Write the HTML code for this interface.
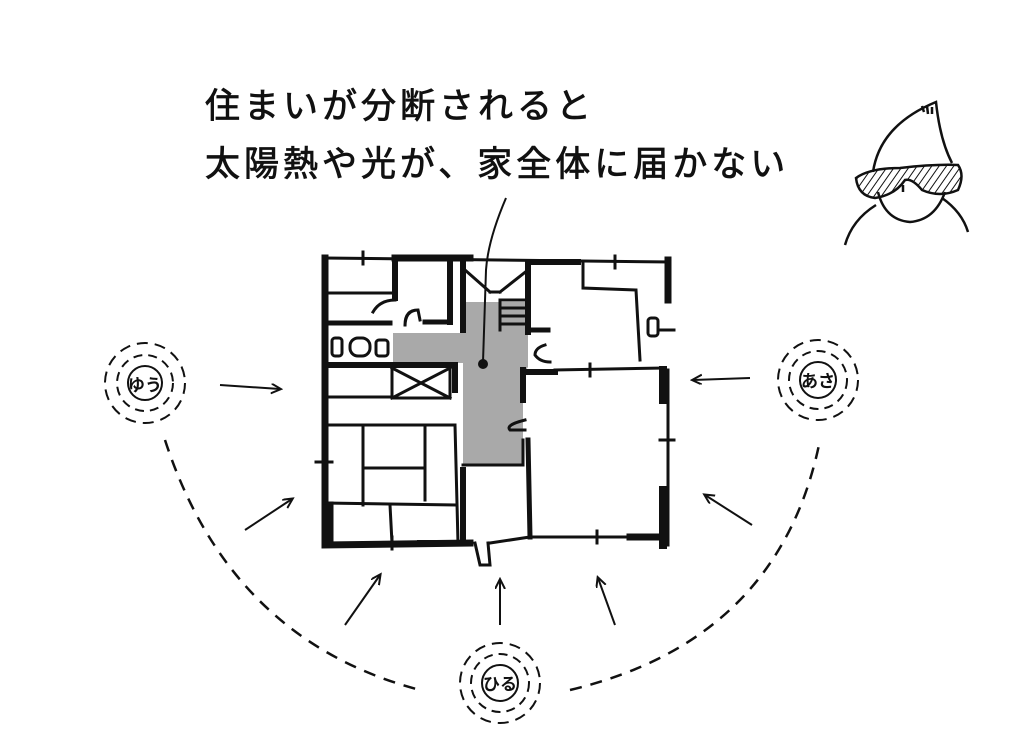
<!DOCTYPE html>
<html><head><meta charset="utf-8"><style>
html,body{margin:0;padding:0;background:#fff;}
svg{display:block;}
text{font-family:"Liberation Sans","Noto Sans CJK JP",sans-serif;fill:#111;}
</style></head><body>
<svg width="1024" height="748" viewBox="0 0 1024 748" xmlns="http://www.w3.org/2000/svg">
<defs>
<marker id="ah" markerWidth="12" markerHeight="12" refX="9" refY="5" orient="auto" markerUnits="userSpaceOnUse">
<path d="M0,0 L10,5 L0,10" fill="none" stroke="#111" stroke-width="2"/></marker>
<pattern id="hatch" width="6" height="6" patternUnits="userSpaceOnUse" patternTransform="rotate(35)">
<line x1="0" y1="0" x2="0" y2="6" stroke="#111" stroke-width="2"/></pattern>
</defs>
<text x="205" y="118" font-size="35" letter-spacing="4" stroke="#111" stroke-width="0.8">住まいが分断されると</text>
<text x="205" y="176" font-size="35" letter-spacing="4" stroke="#111" stroke-width="0.8">太陽熱や光が、家全体に届かない</text>

<polygon points="393,333 463,333 463,302 528,302 528,367 523,375 523,465 463,465 463,363 393,363" fill="#a9a9a9"/>

<g fill="none" stroke="#111" stroke-width="3" stroke-linecap="square">
<path d="M325,258 L325,545 L470,543" stroke-width="7"/>
<path d="M325,258 L670,262" />
<path d="M395,258 L470,258" stroke-width="7"/>
<path d="M528,262 L578,262" stroke-width="6"/>
<path d="M668,260 L668,300" stroke-width="7"/>
<path d="M668,370 L668,545" />
<path d="M663,370 L663,400" stroke-width="8"/>
<path d="M663,490 L663,545" stroke-width="8"/>
<path d="M530,537 L668,537"/>
<path d="M630,537 L665,537" stroke-width="7"/>
<path d="M420,543 L470,543" stroke-width="6"/>
<path d="M325,293 L395,293"/>
<path d="M395,258 L395,298" stroke-width="6"/>
<path d="M325,323 L390,323" stroke-width="5"/>
<path d="M450,258 L450,322" stroke-width="6"/>
<path d="M425,322 L450,322" stroke-width="5"/>
<path d="M325,365 L455,365" stroke-width="6"/>
<path d="M455,365 L455,390" stroke-width="6"/>
<path d="M392,368 L392,398 L450,398 L450,368"/>
<path d="M392,368 L450,398 M450,368 L392,398"/>
<path d="M325,397 L392,397"/>
<path d="M325,425 L455,425"/>
<path d="M455,425 L458,543"/>
<path d="M363,425 L363,505 M425,425 L425,500 M363,468 L425,468"/>
<path d="M325,503 L455,505"/>
<path d="M390,505 L392,543"/>
<path d="M330,505 L330,543" stroke-width="7"/>
<path d="M463,262 L463,330" stroke-width="6"/>
<path d="M528,262 L528,332" stroke-width="6"/>
<path d="M465,270 L490,292 M528,270 L500,292 M490,292 L500,292"/>
<path d="M500,300 L528,300 M500,308 L528,308 M500,316 L528,316 M500,324 L528,324 M500,300 L500,330"/>
<path d="M528,330 L548,330" stroke-width="5"/>
<path d="M583,262 L583,288 L636,290 L640,360"/>
<path d="M523,370 L523,400" stroke-width="6"/>
<path d="M523,372 L555,372" stroke-width="6"/>
<path d="M555,370 L663,368"/>
<path d="M528,440 L530,537" stroke-width="5"/>
<path d="M523,440 L523,465"/>
<path d="M463,465 L523,465"/>
<path d="M463,470 L463,543" stroke-width="6"/>
<path d="M475,543 L480,565 L490,565 L488,543"/>
<path d="M490,543 L530,537"/>
<path d="M373,312 Q380,300 395,300"/>
<path d="M405,325 Q405,310 418,310 L420,320"/>
<path d="M545,345 Q535,348 535,355 Q540,362 550,362"/>
<path d="M525,420 Q505,425 510,430 L525,430"/>
<rect x="332" y="338" width="10" height="18" rx="3"/>
<rect x="350" y="338" width="20" height="18" rx="8"/>
<rect x="376" y="340" width="12" height="16" rx="3"/>
<rect x="648" y="318" width="10" height="18" rx="3"/>
<path d="M363,252 L363,264 M615,256 L615,268 M590,364 L590,376 M316,462 L332,462 M660,440 L674,440 M660,330 L674,330 M392,537 L392,549 M597,531 L597,543"/>
</g>
<path d="M506,198 Q488,240 486,270 L483,362" fill="none" stroke="#111" stroke-width="2"/>
<circle cx="483" cy="364" r="5" fill="#111"/>

<path d="M165,440 Q230,640 420,690" fill="none" stroke="#111" stroke-width="2.5" stroke-dasharray="12,9"/>
<path d="M570,690 Q780,640 820,440" fill="none" stroke="#111" stroke-width="2.5" stroke-dasharray="12,9"/>

<g stroke="#111" stroke-width="2" fill="none" marker-end="url(#ah)">
<line x1="220" y1="385" x2="280" y2="389"/>
<line x1="245" y1="530" x2="292" y2="499"/>
<line x1="345" y1="625" x2="380" y2="575"/>
<line x1="500" y1="625" x2="500" y2="580"/>
<line x1="615" y1="625" x2="598" y2="578"/>
<line x1="752" y1="525" x2="705" y2="495"/>
<line x1="750" y1="378" x2="693" y2="380"/>
</g>

<g fill="none" stroke="#111" stroke-width="2">
<g transform="translate(145,383)"><circle r="17"/><circle r="28" stroke-dasharray="9,6"/><circle r="40" stroke-dasharray="11,7"/></g>
<g transform="translate(818,380)"><circle r="18"/><circle r="29" stroke-dasharray="9,6"/><circle r="40" stroke-dasharray="11,7"/></g>
<g transform="translate(500,683)"><circle r="18"/><circle r="29" stroke-dasharray="9,6"/><circle r="40" stroke-dasharray="11,7"/></g>
</g>
<text x="145" y="391" font-size="17" text-anchor="middle" font-weight="bold">ゆう</text>
<text x="818" y="387" font-size="17" text-anchor="middle" font-weight="bold">あさ</text>
<text x="500" y="690" font-size="17" text-anchor="middle" font-weight="bold">ひる</text>

<g fill="none" stroke="#111" stroke-width="2.5">
<path d="M873,172 Q880,125 936,102 Q940,140 952,163"/>
<path d="M924,112 L922,106 M928,114 L927,106 M932,114 L932,107"/>
<path d="M878,192 Q885,220 910,222 Q935,220 945,192"/>
<path d="M876,205 Q852,220 845,245"/>
<path d="M942,198 Q962,212 968,232"/>
<path d="M856,178 Q870,168 900,168 Q935,164 958,165 Q965,175 958,190 Q940,198 922,190 Q912,178 905,180 Q895,195 875,198 Q858,196 856,178Z" fill="url(#hatch)"/>
<path d="M903,185 L903,192"/>
</g>
</svg>
</body></html>
